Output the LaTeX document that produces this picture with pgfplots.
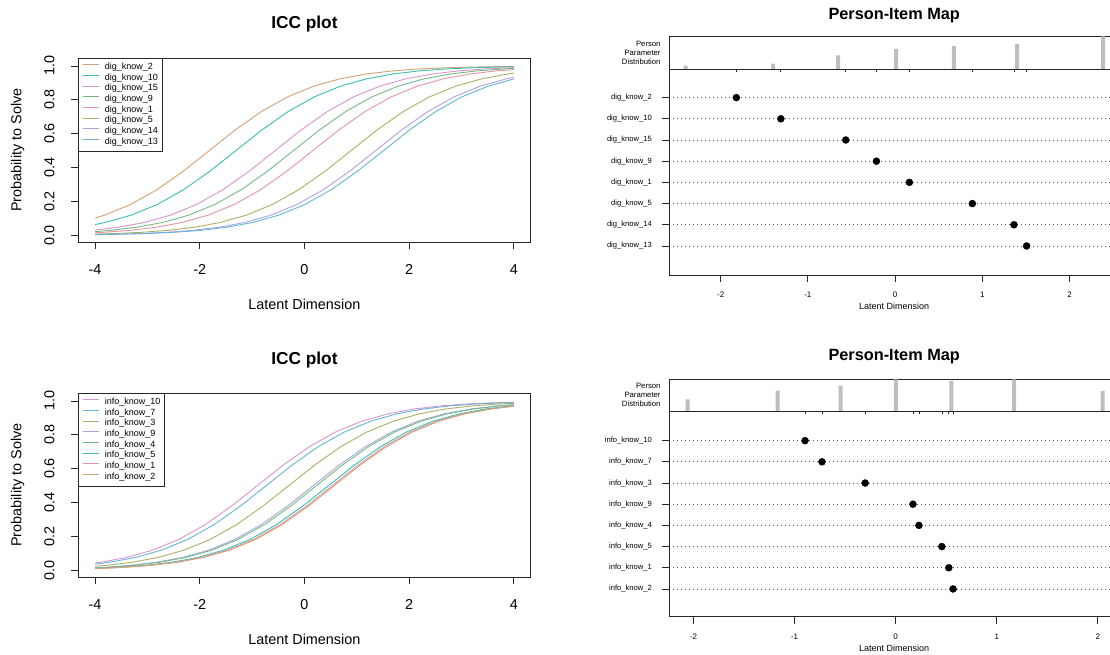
\documentclass[border=0pt]{standalone}
\usepackage{fontspec}
\setmainfont{Liberation Sans}
\usepackage{pgfplots}
\pgfplotsset{compat=1.18}
\definecolor{cTan}{HTML}{D2A277}
\definecolor{cTeal}{HTML}{39BEB1}
\definecolor{cMag}{HTML}{D995CF}
\definecolor{cGreen}{HTML}{72BB83}
\definecolor{cPink}{HTML}{E495A5}
\definecolor{cOlive}{HTML}{ABB065}
\definecolor{cLav}{HTML}{ACA4E2}
\definecolor{cBlue}{HTML}{64B5D6}
\definecolor{histgray}{HTML}{BEBEBE}
\pgfplotsset{
  iccaxis/.style={
    scale only axis, anchor=south west, width=452.2pt, height=184.3pt,
    xmin=-4.32, xmax=4.32, ymin=-0.041, ymax=1.047,
    xtick={-4,-2,0,2,4}, xticklabels={-4,-2,0,2,4},
    ytick={0,0.2,0.4,0.6,0.8,1}, yticklabels={0.0,0.2,0.4,0.6,0.8,1.0},
    tick pos=left, tick align=outside, major tick length=7pt,
    axis line style={line width=0.8pt, black!85},
    every tick/.style={line width=0.8pt, black!85},
    tick label style={font=\fontsize{14.4}{17}\selectfont, inner sep=0pt},
    xticklabel style={anchor=base, yshift=-25pt},
    yticklabel style={xshift=-17pt, rotate=90, anchor=base},
    title style={at={(axis description cs:0.5,1)}, anchor=base, yshift=23pt, inner sep=0pt, font=\bfseries\fontsize{17.3}{20}\selectfont},
    every axis x label/.style={at={(axis description cs:0.5,0)}, anchor=base, yshift=-67.7pt, inner sep=0pt, font=\fontsize{14.4}{17}\selectfont},
    every axis y label/.style={at={(axis description cs:0,0.5)}, xshift=-56.9pt, rotate=90, anchor=base, inner sep=0pt, font=\fontsize{14.4}{17}\selectfont},
    xlabel={Latent Dimension}, ylabel={Probability to Solve}, title={ICC plot},
    legend style={at={(0,1)}, anchor=north west, draw=black!85, line width=0.8pt, fill=white,
      inner xsep=3.5pt, inner ysep=3.5pt, font=\fontsize{9}{10.3}\selectfont, row sep=0pt, column sep=4pt,
      cells={anchor=west}, nodes={inner sep=1pt, text height=6.6pt, text depth=2.1pt}},
    legend image code/.code={\draw[#1, line width=0.9pt] (0pt,2.6pt) -- (16.7pt,2.6pt);},
    every axis plot/.append style={line width=0.9pt},
  },
  histaxis/.style={
    scale only axis, anchor=south west, width=450.4pt,
    ymin=0, ymax=1, ytick=\empty, xticklabels={},
    tick pos=left, tick align=outside, major tick length=3.3pt,
    axis line style={line width=0.8pt, black!85},
    every tick/.style={line width=0.7pt, black!85},
    title={Person-Item Map},
    title style={at={(axis description cs:0.5,1)}, anchor=base, inner sep=0pt, font=\bfseries\fontsize{16.3}{19}\selectfont},
    ylabel={Person\\Parameter\\Distribution},
    every axis y label/.style={at={(axis description cs:0,0.5)}, xshift=-8.3pt, anchor=east, align=right, inner sep=0pt, font=\fontsize{7.7}{9.15}\selectfont},
  },
  itemaxis/.style={
    scale only axis, anchor=south west, width=450.4pt, height=206pt,
    xtick={-2,-1,0,1,2}, xticklabels={-2,-1,0,1,2}, ytick={1,2,3,4,5,6,7,8},
    tick pos=left, tick align=outside, major tick length=7.5pt,
    axis line style={line width=0.8pt, black!85},
    every tick/.style={line width=0.8pt, black!85},
    xticklabel style={font=\fontsize{8}{9}\selectfont, inner sep=0pt, anchor=base, yshift=-15pt},
    yticklabel style={font=\fontsize{7.6}{9}\selectfont, inner sep=0pt, anchor=east, xshift=-9.5pt},
    ymajorgrids, major grid style={black!65, line width=0.7pt, dash pattern=on 0.8pt off 3.2pt},
    xlabel={Latent Dimension},
    every axis x label/.style={at={(axis description cs:0.5,0)}, anchor=base, yshift=-35pt, inner sep=0pt, font=\fontsize{9}{10}\selectfont},
  },
}
\begin{document}
\begin{tikzpicture}
% ---------------- ICC plot (top) ----------------
\begin{axis}[iccaxis, at={(78.3pt,412.7pt)}]
\addplot[cTan] coordinates {(-4,0.1016) (-3.82,0.1192) (-3.32,0.1824) (-2.82,0.2689) (-2.32,0.3775) (-1.82,0.5) (-1.32,0.6225) (-0.82,0.7311) (-0.32,0.8176) (0.18,0.8808) (0.68,0.9241) (1.18,0.9526) (1.68,0.9707) (2.18,0.9820) (2.68,0.9890) (3.18,0.9933) (3.68,0.9959) (4,0.9970)};
\addlegendentry{dig\_know\_2}
\addplot[cTeal] coordinates {(-4,0.0636) (-3.81,0.0759) (-3.31,0.1192) (-2.81,0.1824) (-2.31,0.2689) (-1.81,0.3775) (-1.31,0.5) (-0.81,0.6225) (-0.31,0.7311) (0.19,0.8176) (0.69,0.8808) (1.19,0.9241) (1.69,0.9526) (2.19,0.9707) (2.69,0.9820) (3.19,0.9890) (3.69,0.9933) (4,0.9951)};
\addlegendentry{dig\_know\_10}
\addplot[cMag] coordinates {(-4,0.0311) (-3.56,0.0474) (-3.06,0.0759) (-2.56,0.1192) (-2.06,0.1824) (-1.56,0.2689) (-1.06,0.3775) (-0.56,0.5) (-0.06,0.6225) (0.44,0.7311) (0.94,0.8176) (1.44,0.8808) (1.94,0.9241) (2.44,0.9526) (2.94,0.9707) (3.44,0.9820) (3.94,0.9890) (4,0.9896)};
\addlegendentry{dig\_know\_15}
\addplot[cGreen] coordinates {(-4,0.0221) (-3.71,0.0293) (-3.21,0.0474) (-2.71,0.0759) (-2.21,0.1192) (-1.71,0.1824) (-1.21,0.2689) (-0.71,0.3775) (-0.21,0.5) (0.29,0.6225) (0.79,0.7311) (1.29,0.8176) (1.79,0.8808) (2.29,0.9241) (2.79,0.9526) (3.29,0.9707) (3.79,0.9820) (4,0.9854)};
\addlegendentry{dig\_know\_9}
\addplot[cPink] coordinates {(-4,0.0154) (-3.84,0.0180) (-3.34,0.0293) (-2.84,0.0474) (-2.34,0.0759) (-1.84,0.1192) (-1.34,0.1824) (-0.84,0.2689) (-0.34,0.3775) (0.16,0.5) (0.66,0.6225) (1.16,0.7311) (1.66,0.8176) (2.16,0.8808) (2.66,0.9241) (3.16,0.9526) (3.66,0.9707) (4,0.9790)};
\addlegendentry{dig\_know\_1}
\addplot[cOlive] coordinates {(-4,0.0075) (-3.61,0.0110) (-3.11,0.0180) (-2.61,0.0293) (-2.11,0.0474) (-1.61,0.0759) (-1.11,0.1192) (-0.61,0.1824) (-0.11,0.2689) (0.39,0.3775) (0.89,0.5) (1.39,0.6225) (1.89,0.7311) (2.39,0.8176) (2.89,0.8808) (3.39,0.9241) (3.89,0.9526) (4,0.9573)};
\addlegendentry{dig\_know\_5}
\addplot[cLav] coordinates {(-4,0.0047) (-3.64,0.0067) (-3.14,0.0110) (-2.64,0.0180) (-2.14,0.0293) (-1.64,0.0474) (-1.14,0.0759) (-0.64,0.1192) (-0.14,0.1824) (0.36,0.2689) (0.86,0.3775) (1.36,0.5) (1.86,0.6225) (2.36,0.7311) (2.86,0.8176) (3.36,0.8808) (3.86,0.9241) (4,0.9334)};
\addlegendentry{dig\_know\_14}
\addplot[cBlue] coordinates {(-4,0.0040) (-3.49,0.0067) (-2.99,0.0110) (-2.49,0.0180) (-1.99,0.0293) (-1.49,0.0474) (-0.99,0.0759) (-0.49,0.1192) (0.01,0.1824) (0.51,0.2689) (1.01,0.3775) (1.51,0.5) (2.01,0.6225) (2.51,0.7311) (3.01,0.8176) (3.51,0.8808) (4,0.9234)};
\addlegendentry{dig\_know\_13}
\end{axis}
% ---------------- ICC plot (bottom) ----------------
\begin{axis}[iccaxis, at={(78.3pt,77.7pt)}, title style={yshift=-1pt}]
\addplot[cMag] coordinates {(-4,0.0431) (-3.9,0.0474) (-3.4,0.0759) (-2.9,0.1192) (-2.4,0.1824) (-1.9,0.2689) (-1.4,0.3775) (-0.9,0.5) (-0.4,0.6225) (0.1,0.7311) (0.6,0.8176) (1.1,0.8808) (1.6,0.9241) (2.1,0.9526) (2.6,0.9707) (3.1,0.9820) (3.6,0.9890) (4,0.9926)};
\addlegendentry{info\_know\_10}
\addplot[cBlue] coordinates {(-4,0.0366) (-3.73,0.0474) (-3.23,0.0759) (-2.73,0.1192) (-2.23,0.1824) (-1.73,0.2689) (-1.23,0.3775) (-0.73,0.5) (-0.23,0.6225) (0.27,0.7311) (0.77,0.8176) (1.27,0.8808) (1.77,0.9241) (2.27,0.9526) (2.77,0.9707) (3.27,0.9820) (3.77,0.9890) (4,0.9912)};
\addlegendentry{info\_know\_7}
\addplot[cOlive] coordinates {(-4,0.0241) (-3.8,0.0293) (-3.3,0.0474) (-2.8,0.0759) (-2.3,0.1192) (-1.8,0.1824) (-1.3,0.2689) (-0.8,0.3775) (-0.3,0.5) (0.2,0.6225) (0.7,0.7311) (1.2,0.8176) (1.7,0.8808) (2.2,0.9241) (2.7,0.9526) (3.2,0.9707) (3.7,0.9820) (4,0.9866)};
\addlegendentry{info\_know\_3}
\addplot[cLav] coordinates {(-4,0.0152) (-3.83,0.0180) (-3.33,0.0293) (-2.83,0.0474) (-2.33,0.0759) (-1.83,0.1192) (-1.33,0.1824) (-0.83,0.2689) (-0.33,0.3775) (0.17,0.5) (0.67,0.6225) (1.17,0.7311) (1.67,0.8176) (2.17,0.8808) (2.67,0.9241) (3.17,0.9526) (3.67,0.9707) (4,0.9788)};
\addlegendentry{info\_know\_9}
\addplot[cGreen] coordinates {(-4,0.0143) (-3.77,0.0180) (-3.27,0.0293) (-2.77,0.0474) (-2.27,0.0759) (-1.77,0.1192) (-1.27,0.1824) (-0.77,0.2689) (-0.27,0.3775) (0.23,0.5) (0.73,0.6225) (1.23,0.7311) (1.73,0.8176) (2.23,0.8808) (2.73,0.9241) (3.23,0.9526) (3.73,0.9707) (4,0.9775)};
\addlegendentry{info\_know\_4}
\addplot[cTeal] coordinates {(-4,0.0114) (-3.54,0.0180) (-3.04,0.0293) (-2.54,0.0474) (-2.04,0.0759) (-1.54,0.1192) (-1.04,0.1824) (-0.54,0.2689) (-0.04,0.3775) (0.46,0.5) (0.96,0.6225) (1.46,0.7311) (1.96,0.8176) (2.46,0.8808) (2.96,0.9241) (3.46,0.9526) (3.96,0.9707) (4,0.9718)};
\addlegendentry{info\_know\_5}
\addplot[cPink] coordinates {(-4,0.0107) (-3.47,0.0180) (-2.97,0.0293) (-2.47,0.0474) (-1.97,0.0759) (-1.47,0.1192) (-0.97,0.1824) (-0.47,0.2689) (0.03,0.3775) (0.53,0.5) (1.03,0.6225) (1.53,0.7311) (2.03,0.8176) (2.53,0.8808) (3.03,0.9241) (3.53,0.9526) (4,0.9698)};
\addlegendentry{info\_know\_1}
\addplot[cTan] coordinates {(-4,0.0103) (-3.93,0.0110) (-3.43,0.0180) (-2.93,0.0293) (-2.43,0.0474) (-1.93,0.0759) (-1.43,0.1192) (-0.93,0.1824) (-0.43,0.2689) (0.07,0.3775) (0.57,0.5) (1.07,0.6225) (1.57,0.7311) (2.07,0.8176) (2.57,0.8808) (3.07,0.9241) (3.57,0.9526) (4,0.9686)};
\addlegendentry{info\_know\_2}
\end{axis}
% ---------------- Person-Item Map (top) ----------------
\begin{axis}[histaxis, at={(669pt,586pt)}, height=32.7pt, xmin=-2.592, xmax=2.572,
  xtick={-1.82,-1.31,-0.565,-0.214,0.164,0.886,1.363,1.508},
  title style={yshift=11pt}]
\addplot[ybar, bar width=4pt, fill=histgray, draw=none] coordinates {(-2.401,0.104) (-1.397,0.167) (-0.652,0.417) (0.013,0.615) (0.674,0.708) (1.399,0.771) (2.385,1.0)};
\end{axis}
\begin{axis}[itemaxis, at={(669pt,380pt)}, xmin=-2.592, xmax=2.572, ymin=-0.37, ymax=9.35,
  yticklabels={dig\_know\_13,dig\_know\_14,dig\_know\_5,dig\_know\_1,dig\_know\_9,dig\_know\_15,dig\_know\_10,dig\_know\_2}]
\addplot[only marks, mark=*, mark size=3.5pt, black] coordinates {(-1.82,8) (-1.31,7) (-0.565,6) (-0.214,5) (0.164,4) (0.886,3) (1.363,2) (1.508,1)};
\end{axis}
% ---------------- Person-Item Map (bottom) ----------------
\begin{axis}[histaxis, at={(669pt,244pt)}, height=31.7pt, xmin=-2.243, xmax=2.214,
  xtick={-0.897,-0.729,-0.302,0.171,0.230,0.457,0.526,0.568},
  title style={yshift=12.3pt}]
\addplot[ybar, bar width=4pt, fill=histgray, draw=none] coordinates {(-2.059,0.368) (-1.169,0.642) (-0.546,0.8) (0.003,1.0) (0.552,0.947) (1.172,1.0) (2.049,0.632)};
\end{axis}
\begin{axis}[itemaxis, at={(669pt,38.3pt)}, height=205.7pt, xmin=-2.243, xmax=2.214, ymin=-0.31, ymax=9.40,
  yticklabels={info\_know\_2,info\_know\_1,info\_know\_5,info\_know\_4,info\_know\_9,info\_know\_3,info\_know\_7,info\_know\_10}]
\addplot[only marks, mark=*, mark size=3.5pt, black] coordinates {(-0.897,8) (-0.729,7) (-0.302,6) (0.171,5) (0.230,4) (0.457,3) (0.526,2) (0.568,1)};
\end{axis}
\pgfresetboundingbox
\path[use as bounding box] (0pt,0pt) rectangle (1110pt,655pt);
\end{tikzpicture}
\end{document}
